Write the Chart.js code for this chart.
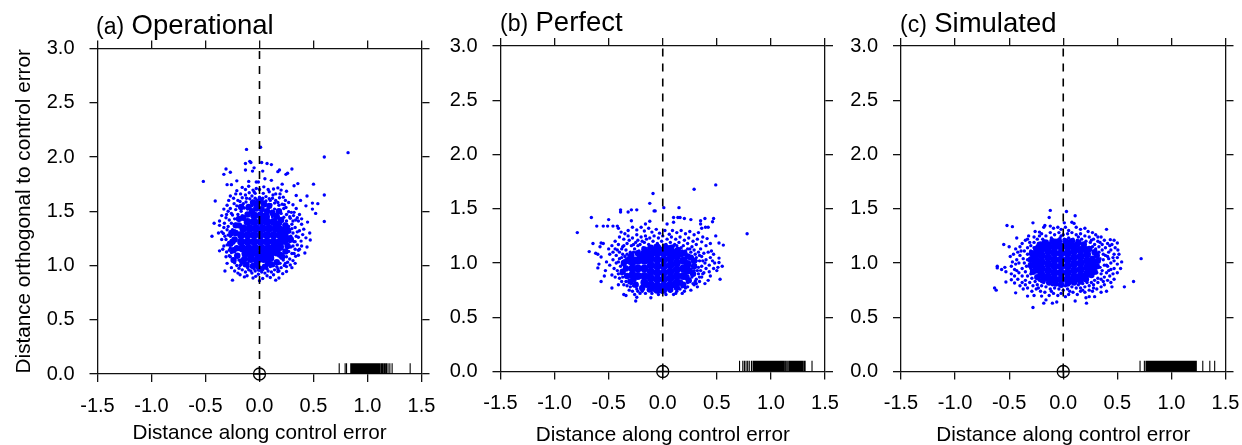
<!DOCTYPE html>
<html>
<head>
<meta charset="utf-8">
<script src="https://cdn.jsdelivr.net/npm/chart.js@4"></script>
<style>
  html, body { margin: 0; padding: 0; background: #fff; }
  body { width: 1242px; height: 445px; position: relative; overflow: hidden; font-family: "Liberation Sans", sans-serif; color: #000; }
  canvas { position: absolute; top: 0; }
  .title { position: absolute; white-space: nowrap; font-size: 23px; line-height: 30px; }
  .title b { font-weight: normal; font-size: 27.5px; margin-left: 1px; }
</style>
</head>
<body>
<canvas id="panelA" width="452" height="450" style="left:0"></canvas>
<canvas id="panelB" width="415" height="450" style="left:442px"></canvas>
<canvas id="panelC" width="412" height="450" style="left:845px"></canvas>
<div class="title" style="left:96px;top:10px">(a) <b>Operational</b></div>
<div class="title" style="left:500px;top:7px">(b) <b>Perfect</b></div>
<div class="title" style="left:900px;top:8px">(c) <b>Simulated</b></div>
<script>
const xTickValues = [-1.5, -1, -0.5, 0, 0.5, 1, 1.5]
const yTickValues = [0, 0.5, 1, 1.5, 2, 2.5, 3]
const xTitle = 'Distance along control error'
const yTitle = 'Distance orthogonal to control error'

// individual dots
const operationalPoints = [
  [.01,2.09],[-.12,2.07],[.82,2.04],[.6,2],[-.13,1.94],[-.09,1.96],[-.08,1.95],[.02,1.95],[.07,1.94],[.11,1.93],
  [-.31,1.89],[-.27,1.86],[-.33,1.84],[-.13,1.88],[-.065,1.87],[-.05,1.9],[.03,1.87],[.185,1.88],[.17,1.865],[.3,1.89],
  [.26,1.85],[.245,1.84],[-.52,1.775],[-.3,1.745],[-.26,1.745],[-.21,1.78],[-.1,1.775],[-.03,1.77],[-.01,1.77],[.05,1.8],
  [.11,1.785],[.21,1.75],[.32,1.735],[.355,1.755],[.5,1.75],[.6,1.65],[.44,1.64],[.34,1.645],[.38,1.6],[.49,1.575],
  [.54,1.57],[.43,1.55],[.49,1.52],[.52,1.48],[.6,1.405],[.39,1.43],[-.41,1.595],[-.42,1.39],[-.44,1.27],[-.37,1.37],
  [-.37,1.41],[-.38,1.3],[-.35,1.24],[-.33,1.18],[-.37,1.135],[-.34,1.15],[-.32,.95],[-.27,1.08],[-.25,.865],[.15,.865],
  [0,.86],[-.18,.915],[-.14,.895],[-.115,.905],[-.06,.885],[-.035,.9],[.03,.88],[.07,.905],[.1,.89],[.13,.915],[.18,.885],
  [.215,.925],[.25,.945],[.285,1.005],[.31,1.045],[.335,1.085],[.36,1.095],[.42,1.115],[.44,1.17],[.47,1.235],[.465,1.3],[.4,1.285],
  [.43,1.255],[.385,1.225],[.41,1.335],[.445,1.4],[.39,1.38],[.37,1.47],[.34,1.525],[.36,1.41],[.31,1.56],[.295,1.49],[.27,1.58],
  [.22,1.63],[.25,1.685],[.2,1.695],[.17,1.715],[.13,1.705],[.09,1.68],[.04,1.725],[0,1.7],[-.03,1.71],[-.06,1.695],[-.1,1.73],
  [-.13,1.7],[-.16,1.72],[-.175,1.66],[-.21,1.69],[-.27,1.64],[-.285,1.6],[-.3,1.555],[-.33,1.52],[-.35,1.46],[-.305,1.47],
  [-.27,1.525],[-.235,1.57],[-.2,1.6],[-.16,1.625],[-.13,1.65],[-.095,1.67],[-.07,1.64],[-.04,1.665],[0,1.63],[.035,1.665],
  [.06,1.635],[.09,1.615],[.125,1.65],[.15,1.6],[.185,1.625],[.21,1.565],[.245,1.535],[.27,1.495],[.315,1.46],[.335,1.42],[.285,1.435],
  [.25,1.47],[.225,1.525],[.18,1.555],[.14,1.575],[.105,1.56],[.06,1.595],[.02,1.58],[-.025,1.605],[-.065,1.59],[-.09,1.615],[-.125,1.585],
  [-.15,1.57],[-.18,1.545],[-.22,1.515],[-.25,1.465],[-.28,1.42],[-.325,1.39],[-.3,1.33],[-.335,1.295],[-.29,1.28],[-.31,1.24],
  [-.285,1.21],[-.305,1.125],[-.27,1.16],[-.26,1.12],[-.245,1.06],[-.23,1.025],[-.21,1],[-.19,.975],[-.16,.96],[-.13,.94],[-.1,.96],
  [-.07,.93],[-.04,.95],[-.01,.92],[.02,.94],[.05,.93],[.08,.95],[.11,.94],[.14,.96],[.17,.945],[.2,.98],[.23,1],[.26,1.03],
  [.28,1.06],[.3,1.11],[.33,1.15],[.35,1.19],[.32,1.22],[.34,1.27],[.31,1.3],[.33,1.35],[.3,1.38],[.27,1.36],[.25,1.41],
  [.225,1.445],[.2,1.48],[.17,1.505],[.14,1.52],[.115,1.5],[.085,1.535],[.05,1.55],[-.01,1.54],[-.04,1.56],[-.07,1.55],[-.11,1.52],
  [-.14,1.53],[-.17,1.5],[-.2,1.47],[-.23,1.43],[-.26,1.39],[-.25,1.33],[-.27,1.27],[-.255,1.2],[-.24,1.15],[-.22,1.09],
  [-.19,1.05],[-.17,1.01],[-.14,1],[-.11,.98],[-.08,.99],[-.05,.97],[-.02,.98],[.01,.97],[.04,.99],[.07,.97],[.1,.99],
  [.13,1],[.16,.99],[.19,1.02],[.22,1.05],[.25,1.08],[.27,1.13],[.29,1.17],[.28,1.22],[.29,1.27],[.28,1.31],[.26,1.35],
  [.23,1.38],[.2,1.42],[.17,1.45],[.15,1.47],[.12,1.45],[.03,1.51],[-.12,1.48],[-.16,1.46],[-.19,1.42],[-.22,1.38],[-.23,1.32],
  [-.29,1.36],[-.32,1.27],[-.28,1.14],[-.31,1.08],[-.3,1.02],[-.26,.98],[-.23,.95],[-.2,.93],[.3,.98],[.33,1.02],[.37,1.15],[.39,1.18],
  [.37,1.32],[.35,1.44],[.32,1.49],[.24,1.6],[.19,1.66],[.15,1.66],[-.04,1.62],[-.18,1.59],[-.24,1.62],[-.29,1.5],[-.22,1.66],[.08,1.7],
  [.12,1.62],[.28,1.45],[.31,1.41],[.36,1.26],[.31,1.18],[.25,.99],[.18,.95],
  [-.33,1.35],[-.31,1.44],[-.26,1.48],[-.21,1.55],[-.16,1.54],[-.12,1.62],[-.05,1.68],[.03,1.62],[.1,1.6],[.17,1.58],[.23,1.56],[.3,1.34],
  [.35,1.31],[.33,1.22],[.36,1.14],[.32,1.11],[.24,1.02],[.17,.97],[.03,.96],[-.08,.95],[-.18,1],[-.28,1.09],[-.3,1.19],[-.35,1.31]
]
// dots along the edge of the solid part, close enough to merge
const operationalEdge = [
  [-.26,1.3],[-.25,1.22],[-.24,1.14],[-.22,1.37],[-.19,1.43],[-.205,1.09],[-.16,1.04],[-.12,1.01],[-.06,.995],[0,.97],[.05,.99],
  [.11,1.01],[.16,1.03],[.21,1.08],[.24,1.13],[.26,1.18],[.275,1.25],[.265,1.32],[.24,1.37],[.2,1.42],[.16,1.45],[.12,1.485],
  [.07,1.5],[.02,1.52],[-.03,1.525],[-.07,1.5],[-.11,1.47],[-.15,1.44],[-.03,1.57],[.01,1.6],[-.06,1.58],[.04,1.57],[.09,1.55],
  [-.1,1.54],[-.19,1.37],[-.22,1.3],[-.21,1.16],[-.14,1.06],[-.03,1.01],[.08,1.02],[.19,1.1],[.24,1.22],[.23,1.33],[.18,1.39],
  [-.23,1.24],[-.27,1.2],[-.24,1.05],[.29,1.24],[.24,1.28],[-.17,1.54],[.18,1.5]
]
// the solid middle of the cloud, too dense to read dot by dot
const operationalCore = [
  [-.08,1.06],[-.02,1.05],[.04,1.06],[.1,1.07],[-.13,1.11],[-.07,1.11],[-.01,1.1],[.05,1.11],[.11,1.12],[.16,1.12],
  [-.16,1.16],[-.1,1.16],[-.04,1.16],[.02,1.16],[.08,1.16],[.14,1.17],[.19,1.17],[-.17,1.22],[-.11,1.22],[-.05,1.22],
  [.01,1.22],[.07,1.22],[.13,1.22],[.19,1.22],[.22,1.23],[-.17,1.28],[-.11,1.28],[-.05,1.28],[.01,1.28],[.07,1.28],
  [.13,1.28],[.19,1.28],[.21,1.29],[-.15,1.34],[-.09,1.34],[-.03,1.34],[.03,1.34],[.09,1.34],[.15,1.34],[.19,1.33],
  [-.11,1.4],[-.05,1.4],[.01,1.4],[.07,1.4],[.13,1.4],[-.05,1.46],[.01,1.46],[.06,1.45]
]
const operationalRug = [
  .738,.793,.806,.845,.851,.857,.862,.868,.874,.879,.885,.891,.897,.902,.908,.914,.92,.926,.931,.937,.943,.949,.955,.96,.966,
  .972,.978,.984,.99,.996,1.002,1.008,1.014,1.02,1.026,1.032,1.038,1.047,1.056,1.062,1.068,1.074,1.08,1.088,1.096,1.104,1.11,
  1.118,1.13,1.136,1.146,1.158,1.165,1.176,1.19,1.207,1.228,1.395
]

const perfectPoints = [
  [.49,1.72],[.29,1.68],[-.09,1.64],[-.12,1.55],[.01,1.51],[.15,1.51],[-.39,1.49],[-.39,1.47],[-.29,1.49],[-.32,1.47],
  [-.24,1.49],[-.08,1.48],[-.07,1.48],[-.66,1.42],[-.5,1.4],[-.29,1.39],[.1,1.42],[.14,1.42],[.16,1.42],[.2,1.41],[.26,1.4],
  [.1,1.375],[.04,1.36],[-.12,1.385],[-.16,1.36],[.35,1.39],[.39,1.41],[.47,1.41],[.46,1.38],[.35,1.36],[.395,1.33],[.42,1.33],
  [.36,1.32],[-.79,1.28],[.78,1.27],[-.61,1.34],[-.55,1.34],[-.51,1.34],[-.46,1.34],[-.42,1.34],[-.41,1.32],[-.645,1.18],
  [-.68,1.105],[-.62,1.09],[-.6,1.08],[-.57,1.185],[-.55,1.18],[-.58,1.15],[-.57,1.055],[-.59,.99],[-.6,.955],[-.53,.93],
  [-.54,.88],[-.57,.83],[.49,1.25],[.52,1.185],[.56,1.165],[.45,1.11],[.47,1.08],[.52,1.045],[.52,1.005],[.55,.97],[.51,.96],
  [.48,1],[.5,.93],[.43,.92],[.53,.85],[.42,.84],[.39,.81],[-.47,.77],[-.36,.71],[-.34,.7],[-.24,.685],[-.25,.65],[-.11,.68],
  [.18,.72],[-.385,1.285],[-.35,1.27],[-.32,1.3],[-.28,1.33],[-.24,1.305],[-.2,1.33],[-.17,1.295],[-.13,1.32],[-.1,1.285],[-.06,1.31],
  [-.03,1.275],[.02,1.3],[.06,1.265],[.09,1.3],[.13,1.28],[.17,1.3],[.21,1.27],[.25,1.29],[.29,1.26],[.33,1.28],[.37,1.24],
  [.41,1.225],[.44,1.18],[.4,1.16],[.36,1.195],[.32,1.22],[.28,1.2],[.24,1.23],[.2,1.21],[.16,1.24],[.12,1.22],[.08,1.24],
  [.04,1.22],[0,1.25],[-.04,1.23],[-.08,1.25],[-.12,1.23],[-.16,1.25],[-.2,1.24],[-.24,1.26],[-.28,1.23],[-.32,1.25],[-.36,1.22],
  [-.4,1.24],[-.44,1.2],[-.47,1.16],[-.5,1.13],[-.44,1.13],[-.41,1.17],[-.37,1.15],[-.33,1.18],[-.29,1.16],[-.25,1.19],[-.21,1.17],
  [-.17,1.19],[-.13,1.17],[-.09,1.2],[-.05,1.18],[-.01,1.2],[.03,1.17],[.07,1.19],[.11,1.17],[.15,1.19],[.19,1.16],[.23,1.18],
  [.27,1.15],[.31,1.17],[.35,1.13],[.38,1.09],[.42,1.1],[.44,1.05],[.4,1.03],[.36,1.06],[.33,1.1],[.29,1.12],[.25,1.13],[.21,1.11],
  [-.49,1.08],[-.46,1.1],[-.43,1.07],[-.4,1.1],[-.37,1.08],[-.34,1.12],[-.3,1.1],[-.26,1.13],[-.22,1.11],[-.18,1.14],[-.14,1.12],
  [-.1,1.14],[-.52,1.01],[-.49,.98],[-.46,1.03],[-.43,1],[-.4,1.04],[-.45,.95],[-.42,.93],[-.47,.89],[-.44,.87],[-.41,.9],[-.39,.97],
  [-.37,.87],[-.36,.93],[-.34,.83],[-.38,.83],[-.41,.8],[-.33,.79],[-.3,.78],[-.31,.75],[-.28,.74],[-.24,.76],[-.26,.71],[-.21,.72],
  [-.19,.74],[-.16,.72],[-.13,.75],[-.1,.72],[-.07,.74],[-.04,.71],[-.01,.73],[.03,.71],[.07,.74],[.1,.71],[.13,.74],[.16,.76],[.2,.74],
  [.23,.78],[.26,.75],[.29,.8],[.32,.78],[.34,.83],[.31,.85],[.36,.87],[.33,.9],[.38,.91],[.4,.95],[.36,.97],[.39,1],[.34,1.02],
  [.31,1.05],[.33,.96],[.29,.93],[.3,.98],[.27,.87],[.25,.83],[.28,1.01],[.26,1.06],[.28,.81],[-.33,1.04],[-.36,1.02],[-.38,.9],
  [.43,.98],[.46,1.02],[.44,.88],[.47,.95],[-.27,.79],[-.23,.74],[.05,.76],[.18,.78],[.23,.82],
  [-.42,1.12],[-.38,1.13],[-.31,1.21],[-.27,1.17],[-.23,1.21],[-.19,1.2],[-.15,1.22],[-.07,1.16],[.05,1.15],[.13,1.16],[.17,1.14],
  [.23,1.13],[.3,1.08],[.34,1.07],[.37,1.02],[.35,.93],[.37,.9],[.31,.81],[-.36,.8],[-.4,.86],[-.35,.97],[-.38,1.05],[-.41,1.01],
  [-.36,1.16],[-.33,1.08],[-.27,1.1],[-.23,1.16],[-.19,1.1],[-.13,1.14],[-.03,1.15],[.1,1.16],[.18,1.11],[.26,1.1],[.31,1.02],[.32,.93],
  [.34,.87],[.3,.83],[.21,.77],[.12,.72],[-.02,.76],[-.09,.75],[-.18,.76],[-.29,.81],[-.37,.92],[-.34,.88],[-.31,1],[-.35,1.06]
]
const perfectEdge = [
  [-.34,.95],[-.33,.88],[-.33,1.02],[-.3,.83],[-.29,1.07],[-.25,.8],[-.23,1.09],[-.19,.77],[-.17,1.125],[-.12,.755],[-.11,1.14],
  [-.05,.745],[-.05,1.15],[.01,.745],[.02,1.15],[.07,.755],[.08,1.14],[.13,.775],[.14,1.12],[.19,.8],[.2,1.09],[.24,.84],[.26,1.05],
  [.28,.9],[.29,.97],[.29,1.02],[-.37,.92],[-.36,1],[-.3,1.05],[-.27,.85],[-.21,1.06],[-.15,.8],[-.08,.78],[-.02,.77],[.04,.78],
  [.1,.8],[.16,.82],[.22,.87],[.25,.93],[.23,1.06],[.17,1.08],[.11,1.1],[.05,1.12],[-.02,1.12],[-.08,1.12],[-.14,1.1],[-.25,1.03]
]
const perfectCore = [
  [-.28,.95],[-.23,.88],[-.23,.95],[-.23,1.02],[-.17,.82],[-.17,.88],[-.17,.95],[-.17,1.02],[-.17,1.07],[-.11,.8],[-.11,.86],
  [-.11,.92],[-.11,.98],[-.11,1.04],[-.11,1.08],[-.05,.79],[-.05,.85],[-.05,.91],[-.05,.97],[-.05,1.03],[-.05,1.09],[.01,.79],
  [.01,.85],[.01,.91],[.01,.97],[.01,1.03],[.01,1.09],[.07,.8],[.07,.86],[.07,.92],[.07,.98],[.07,1.04],[.07,1.09],[.13,.82],
  [.13,.88],[.13,.94],[.13,1],[.13,1.06],[.19,.88],[.19,.95],[.19,1.02],[-.28,.89],[-.28,1.01],[.23,.93],[.23,.99]
]
const perfectRug = [
  .71,.74,.755,.77,.785,.8,.82,.835,.84,.846,.852,.858,.866,.872,.878,.886,.892,.9,.906,.914,.922,.928,.936,.944,.952,.958,.966,
  .972,.98,.988,.994,1.002,1.01,1.016,1.024,1.032,1.04,1.048,1.056,1.062,1.072,1.08,1.09,1.098,1.108,1.118,1.124,1.136,1.148,1.16,
  1.172,1.18,1.188,1.196,1.206,1.216,1.226,1.236,1.244,1.252,1.262,1.27,1.278,1.286,1.296,1.308,1.316,1.38
]

const simulatedPoints = [
  [-.12,1.485],[.03,1.475],[.11,1.435],[-.13,1.42],[-.28,1.37],[-.52,1.345],[-.47,1.335],[-.17,1.345],[.01,1.37],[.08,1.375],
  [.1,1.365],[.4,1.31],[-.26,1.29],[-.22,1.285],[-.32,1.25],[-.43,1.23],[-.55,1.17],[-.5,1.15],[-.44,1.13],[-.49,1.06],[-.61,.97],
  [-.61,.955],[-.54,.96],[-.57,.94],[-.53,.92],[-.53,.825],[-.48,.845],[-.45,.815],[-.635,.77],[-.62,.75],[-.44,.725],[-.33,.695],
  [-.27,.7],[-.2,.695],[-.16,.66],[-.18,.63],[-.28,.59],[-.1,.63],[-.06,.64],[.11,.65],[.21,.68],[.215,.63],[.29,.69],[.24,.69],
  [.72,1.04],[.65,.83],[.565,.78],[.45,.78],[.4,.74],[.35,.73],[.54,1.01],[.53,.95],[.515,1.08],[.505,1.12],[.5,1.185],[.47,1.21],
  [.435,1.215],[.32,1.24],[-.18,1.33],[-.12,1.34],[-.09,1.32],[-.05,1.33],[-.02,1.31],[.02,1.33],[.05,1.3],[.12,1.33],[.16,1.31],
  [.2,1.32],[.23,1.29],[.27,1.28],[.3,1.26],[.35,1.24],[.38,1.21],[.41,1.18],[.45,1.17],[.48,1.14],[.44,1.12],[.47,1.08],[.5,1.05],
  [.47,1.02],[.5,.99],[.47,.95],[.5,.91],[.46,.9],[.43,.88],[.47,.85],[.44,.82],[.41,.84],[.38,.8],[.35,.78],[.31,.76],[.27,.74],
  [.24,.75],[.2,.73],[.16,.74],[.13,.71],[.09,.73],[.05,.71],[.02,.69],[-.02,.72],[-.05,.7],[-.09,.72],[-.13,.7],[-.17,.73],[-.21,.74],
  [-.25,.76],[-.29,.74],[-.33,.77],[-.37,.76],[-.4,.79],[-.38,.82],[-.42,.85],[-.45,.88],[-.48,.9],[-.45,.94],[-.48,.97],[-.44,.99],
  [-.47,1.01],[-.43,1.03],[-.46,1.08],[-.42,1.1],[-.4,1.15],[-.38,1.18],[-.35,1.21],[-.31,1.19],[-.27,1.24],[-.24,1.22],[-.2,1.27],
  [-.16,1.25],[-.12,1.28],[-.08,1.26],[-.04,1.28],[0,1.26],[.04,1.27],[.08,1.28],[.12,1.26],[.16,1.27],[.2,1.25],[.24,1.24],[.28,1.22],
  [.32,1.2],[.36,1.17],[.39,1.14],[.42,1.1],[.39,1.07],[.42,1.04],[.44,1],[.41,.97],[.44,.94],[.4,.91],[.38,.87],[.35,.85],[.32,.82],
  [.28,.8],[.24,.79],[.2,.78],[.16,.77],[.12,.77],[.08,.78],[.04,.76],[0,.75],[-.04,.76],[-.08,.77],[-.12,.76],[-.16,.78],[-.2,.79],
  [-.24,.8],[-.28,.79],[-.31,.82],[-.35,.84],[-.38,.88],[-.41,.91],[-.38,.95],[-.41,1],[-.37,1.04],[-.4,1.07],[-.36,1.11],[-.33,1.14],
  [-.3,1.16],[-.27,1.19],[-.23,1.18],[-.19,1.22],[-.15,1.2],[-.11,1.23],[-.07,1.21],[-.03,1.23],[.01,1.22],[.05,1.23],[.09,1.22],[.13,1.21],
  [.17,1.22],[.21,1.2],[.25,1.19],[.29,1.17],[.33,1.15],[.36,1.12],[.37,1.08],[.37,1.03],[.38,.98],[.36,.93],[.35,.9],[.32,.86],[.29,.84],
  [.26,.82],[.22,.82],[.18,.81],[.14,.8],[.1,.82],[.06,.81],[.02,.79],[-.02,.8],[-.06,.81],[-.1,.8],[-.14,.82],[-.18,.82],[-.22,.84],
  [-.26,.83],[-.29,.86],[-.33,.88],[-.35,.92],[-.34,.97],[-.36,1],[-.33,1.03],[-.33,1.08],[-.3,1.11],[-.27,1.14],[-.24,1.16],[.33,1.1],
  [.34,1.04],[.34,.96],[.31,.91],[.3,1.13],[.27,1.15],[-.3,.9],[-.3,.95],[-.3,1.05],
  [.43,1.16],[.46,1.05],[.42,.93],[.37,.83],[.28,.77],[.18,.75],[.06,.74],[-.11,.74],[-.23,.77],[-.35,.8],[-.43,.93],[-.39,1.11],
  [-.33,1.22],[-.22,1.25],[-.02,1.25],[.14,1.24],[.26,1.21],[.34,1.19],[.41,1.06],[.4,.98]
]
const simulatedEdge = [
  [-.3,.98],[-.3,1.03],[-.29,1.09],[-.28,.92],[-.25,1.13],[-.24,.87],[-.21,1.17],[-.19,.84],[-.17,1.19],[-.13,.82],[-.1,1.2],
  [-.07,.81],[-.04,1.2],[-.02,.8],[.02,1.2],[.04,.81],[.08,1.2],[.1,.82],[.14,1.19],[.16,.83],[.19,1.17],[.21,.85],[.24,1.13],
  [.26,.89],[.29,1.1],[.31,.97],[.32,1.02],[.31,1.07],[.29,.92],[-.27,1.06],[-.22,1.12],[-.16,.86],[-.11,.84],[.07,.84],[.13,.85],
  [.2,.88],[.24,.92],[.27,1.04],[.2,1.13],[.13,1.17],[.06,1.19],[-.06,1.18],[-.17,1.15],[-.26,1.01],[-.24,.93]
]
const simulatedCore = [
  [-.25,.96],[-.25,1.02],[-.25,1.08],[-.2,.89],[-.2,.95],[-.2,1.01],[-.2,1.07],[-.2,1.13],[-.14,.87],[-.14,.93],[-.14,.99],
  [-.14,1.05],[-.14,1.11],[-.14,1.16],[-.08,.85],[-.08,.91],[-.08,.97],[-.08,1.03],[-.08,1.09],[-.08,1.15],[-.02,.85],[-.02,.91],
  [-.02,.97],[-.02,1.03],[-.02,1.09],[-.02,1.15],[.04,.85],[.04,.91],[.04,.97],[.04,1.03],[.04,1.09],[.04,1.15],[.1,.87],[.1,.93],
  [.1,.99],[.1,1.05],[.1,1.11],[.1,1.15],[.16,.88],[.16,.94],[.16,1],[.16,1.06],[.16,1.12],[.22,.9],[.22,.96],[.22,1.02],[.22,1.08],
  [.27,.96],[.27,1.01]
]
const simulatedRug = [
  .71,.75,.765,.775,.785,.795,.805,.812,.82,.83,.84,.846,.854,.862,.868,.876,.884,.892,.898,.906,.914,.924,.932,.94,.946,.952,.96,
  .966,.972,.98,.986,.992,.998,1.004,1.01,1.016,1.022,1.028,1.034,1.04,1.046,1.052,1.058,1.064,1.07,1.078,1.084,1.09,1.098,1.104,
  1.112,1.118,1.126,1.134,1.142,1.15,1.156,1.164,1.172,1.18,1.188,1.196,1.204,1.212,1.222,1.23,1.29,1.355,1.4
]

const rugHeight = 0.1

const axisColor = '#111'
const axisFont = { family: '"Liberation Sans", sans-serif', size: 20 }
const titleFont = { family: '"Liberation Sans", sans-serif', size: 20.7 }

function setTicks(values) {
  return (scale) => { scale.ticks = values.map(value => ({ value })) }
}

function makePanel(id, canvasLeft, plot, points, edgeDots, core, rug, showYTitle) {
  const canvas = document.getElementById(id)
  const leftW = 86
  const edge = 12
  const frame = {
    grid: { drawOnChartArea: false, tickLength: 8, color: axisColor, lineWidth: 1.3 },
    border: { color: axisColor, width: 1.3 }
  }
  const xRange = { type: 'linear', min: -1.5, max: 1.5, afterBuildTicks: setTicks(xTickValues) }
  const yRange = { type: 'linear', min: 0, max: 3, afterBuildTicks: setTicks(yTickValues) }
  const fmt = (v) => v.toFixed(1)
  const toXY = (list) => list.map(([x, y]) => ({ x, y }))

  new Chart(canvas, {
    type: 'scatter',
    data: {
      datasets: [
        { data: [{ x: 0, y: 0 }], pointStyle: 'circle', radius: 6, borderColor: '#000', borderWidth: 1.3, backgroundColor: 'transparent', clip: false, order: 0 },
        { data: [{ x: 0, y: 0 }], pointStyle: 'cross', radius: 6, borderColor: '#000', borderWidth: 1.3, clip: false, order: 0 },
        { data: [{ x: 0, y: 0 }, { x: 0, y: 3 }], showLine: true, radius: 0, borderColor: '#000', borderWidth: 1.6, borderDash: [8, 7], order: 1 },
        { data: rug.flatMap(x => [{ x, y: 0 }, { x, y: rugHeight }, { x, y: null }]), showLine: true, radius: 0, borderColor: '#000', borderWidth: 1.1, order: 2 },
        { data: toXY(points), radius: 1.7, borderWidth: 0, backgroundColor: '#0000ff', order: 3 },
        { data: toXY(edgeDots), radius: 3.2, borderWidth: 0, backgroundColor: '#0000ff', order: 4 },
        { data: toXY(core), radius: 4, borderWidth: 0, backgroundColor: '#0000ff', order: 5 }
      ]
    },
    options: {
      responsive: false,
      animation: false,
      layout: {
        padding: {
          left: plot.left - canvasLeft - leftW,
          right: canvas.width - (plot.right - canvasLeft) - edge,
          top: plot.top - edge,
          bottom: canvas.height - plot.titleBottom
        }
      },
      plugins: { legend: { display: false }, tooltip: { enabled: false } },
      scales: {
        x: {
          ...xRange, ...frame, position: 'bottom',
          afterFit: (s) => { s.height = plot.titleBottom - plot.bottom },
          ticks: { font: axisFont, color: '#000', padding: 12, autoSkip: false, maxRotation: 0, callback: fmt },
          title: { display: true, text: xTitle, font: titleFont, color: '#000', padding: 0 }
        },
        y: {
          ...yRange, ...frame, position: 'left',
          afterFit: (s) => { s.width = leftW },
          ticks: { font: axisFont, color: '#000', padding: 15, autoSkip: false, callback: fmt },
          title: { display: showYTitle, text: yTitle, font: titleFont, color: '#000', padding: 0 }
        },
        x2: {
          ...xRange, ...frame, position: 'top',
          afterFit: (s) => { s.height = edge },
          ticks: { display: false }
        },
        y2: {
          ...yRange, ...frame, position: 'right',
          afterFit: (s) => { s.width = edge },
          ticks: { display: false }
        }
      }
    }
  })
}

makePanel('panelA', 0, { left: 97.5, right: 421.5, top: 48.5, bottom: 374, titleBottom: 445.5 }, operationalPoints, operationalEdge, operationalCore, operationalRug, true)
makePanel('panelB', 442, { left: 500.5, right: 825, top: 46, bottom: 371.5, titleBottom: 447.5 }, perfectPoints, perfectEdge, perfectCore, perfectRug, false)
makePanel('panelC', 845, { left: 901, right: 1225.5, top: 46, bottom: 371.5, titleBottom: 447.5 }, simulatedPoints, simulatedEdge, simulatedCore, simulatedRug, false)
</script>
</body>
</html>
